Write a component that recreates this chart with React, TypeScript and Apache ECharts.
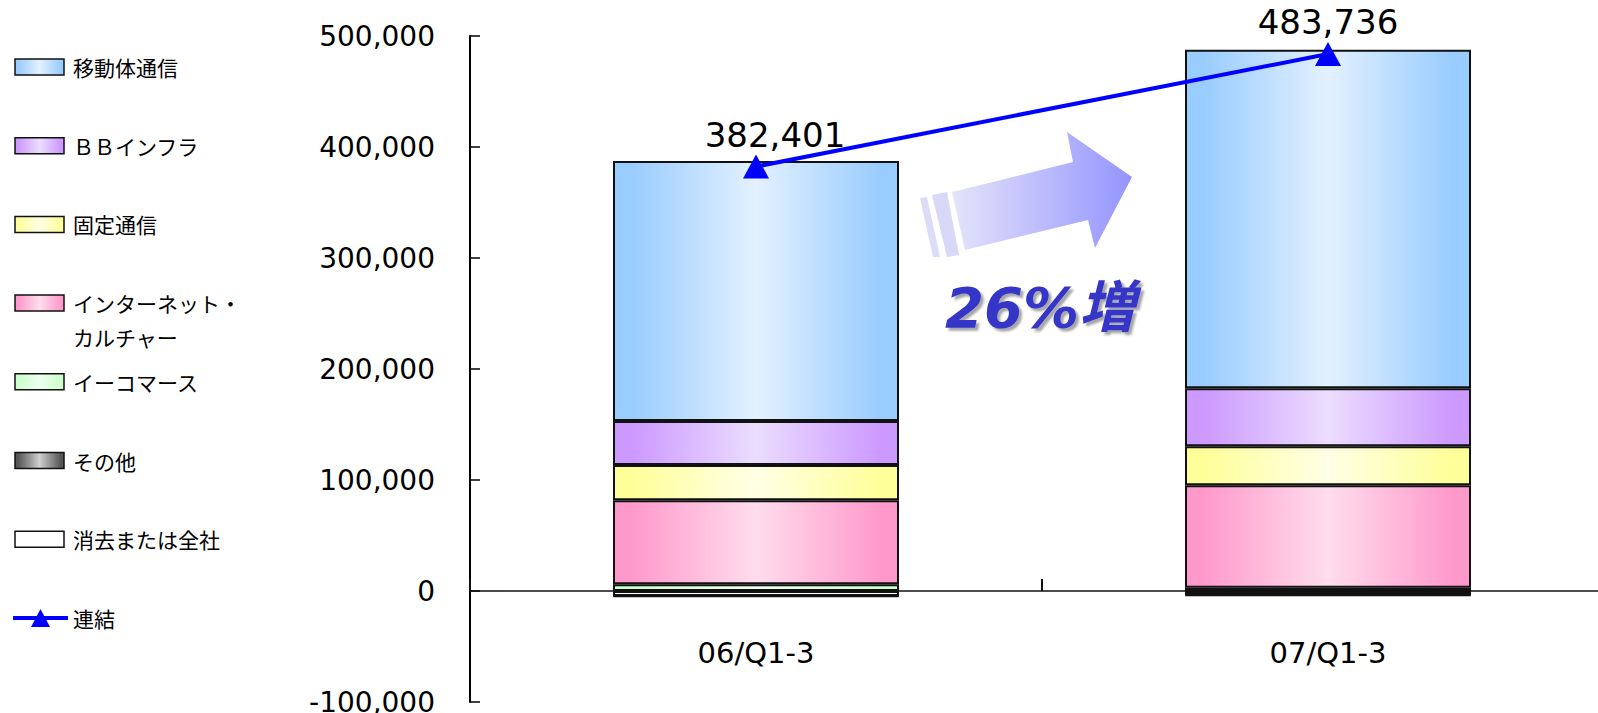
import React, { useEffect, useRef } from "react";
import * as echarts from "echarts";

const categories = ["06/Q1-3", "07/Q1-3"];
const mobile = [234200, 304900];
const bbInfra = [39600, 52300];
const fixedLine = [31800, 35100];
const internet = [75700, 92300];
const ecommerce = [6000, 3000];
const others = [-400, -300];
const elimination = [-4500, -3600];
const consolidated = [382401, 483736];
const yTicks = { min: -100000, max: 500000, interval: 100000 };

const seriesNames = [
  "移動体通信",
  "ＢＢインフラ",
  "固定通信",
  "インターネット・カルチャー",
  "イーコマース",
  "その他",
  "消去または全社",
];
const legendLabels = [
  "移動体通信",
  "ＢＢインフラ",
  "固定通信",
  "インターネット・\nカルチャー",
  "イーコマース",
  "その他",
  "消去または全社",
  "連結",
];
const lineName = "連結";
const increaseText = "26%増";

const edgeColors = ["#99CCFF", "#CC99FF", "#FFFF99", "#FF99CC", "#CCFFCC", "#555555", "#FFFFFF"];
const midColors = ["#E3F1FF", "#EBDDFF", "#FFFFE6", "#FFDDEC", "#EEFFEE", "#D0D0D0", "#FFFFFF"];

const grad = (edge: string, mid: string) =>
  new echarts.graphic.LinearGradient(0, 0, 1, 0, [
    { offset: 0, color: edge },
    { offset: 0.06, color: edge },
    { offset: 0.5, color: mid },
    { offset: 0.94, color: edge },
    { offset: 1, color: edge },
  ]);

const fmt = (v: number) => v.toLocaleString("en-US");

export default function App() {
  const ref = useRef<HTMLDivElement>(null);
  useEffect(() => {
    if (!ref.current) return;
    const chart = echarts.init(ref.current, null, { renderer: "svg" });
    const values = [mobile, bbInfra, fixedLine, internet, ecommerce, others, elimination];
    // stacking order from axis outward
    const stackOrder = [4, 3, 2, 1, 0, 6, 5];
    const barSeries = stackOrder.map((idx) => ({
      name: seriesNames[idx],
      type: "bar",
      stack: "total",
      barWidth: "50%",
      data: values[idx],
      itemStyle: {
        color: grad(edgeColors[idx], midColors[idx]),
        borderColor: "#111",
        borderWidth: 2,
      },
    }));
    const labelOffsets = [[19, 0], [0, 0]];

    const legendGraphics: any[] = [];
    legendLabels.forEach((label, i) => {
      const cy = 67 + i * 78.7;
      if (i < seriesNames.length) {
        legendGraphics.push({
          type: "rect",
          shape: { x: 15, y: cy - 8, width: 49, height: 16 },
          style: {
            fill: grad(edgeColors[i], midColors[i]),
            stroke: "#111",
            lineWidth: 1.5,
          },
        });
      } else {
        legendGraphics.push({
          type: "line",
          shape: { x1: 13, y1: cy, x2: 68, y2: cy },
          style: { stroke: "#0000FF", lineWidth: 4 },
        });
        legendGraphics.push({
          type: "polygon",
          shape: { points: [[31, cy + 9], [50, cy + 9], [40.5, cy - 9]] },
          style: { fill: "#0000FF" },
        });
      }
      legendGraphics.push({
        type: "text",
        x: 73,
        y: cy - 17,
        style: {
          text: label,
          fontSize: 21,
          lineHeight: 34,
          fontFamily: "Noto Sans CJK JP",
          fill: "#000",
          textVerticalAlign: "top",
          verticalAlign: "top",
        },
      });
    });

    const arrowGraphics = [
      {
        type: "polygon",
        shape: { points: [[920, 198], [927, 197], [940, 257], [933, 257]] },
        style: { fill: "#DCDCF8" },
      },
      {
        type: "polygon",
        shape: { points: [[932, 195], [947, 192], [959, 255], [947, 257]] },
        style: { fill: "#D8D8F8" },
      },
      {
        type: "polygon",
        shape: {
          points: [
            [952, 192],
            [1073, 162],
            [1067, 132],
            [1132, 177],
            [1095, 248],
            [1088, 220],
            [965, 250],
          ],
        },
        style: {
          fill: new echarts.graphic.LinearGradient(0, 0, 1, 0, [
            { offset: 0, color: "#E4E4FA" },
            { offset: 1, color: "#9494FF" },
          ]),
        },
      },
      {
        type: "text",
        x: 1040,
        y: 307,
        style: {
          text: increaseText,
          fontSize: 56,
          fontWeight: "bold",
          fontStyle: "italic",
          fontFamily: "DejaVu Sans, Noto Sans CJK JP",
          fill: "#3535C8",
          textAlign: "center",
          textVerticalAlign: "middle",
          align: "center",
          verticalAlign: "middle",
          textShadowColor: "rgba(0,0,0,0.35)",
          textShadowOffsetX: 3,
          textShadowOffsetY: 3,
          textShadowBlur: 2,
        },
      },
    ];

    chart.setOption({
      animation: false,
      grid: { left: 470, right: -16, top: 36, bottom: 11, containLabel: false, outerBoundsMode: "none" },
      xAxis: {
        type: "category",
        data: categories,
        position: "bottom",
        offset: -111,
        z: 10,
        axisLine: { onZero: false, lineStyle: { color: "#111", width: 1.5 } },
        axisTick: { show: true, interval: 0, inside: true, length: 12, lineStyle: { color: "#111", width: 2 } },
        axisLabel: { fontSize: 29, color: "#000", margin: 47, fontFamily: "DejaVu Sans" },
      },
      yAxis: {
        type: "value",
        min: yTicks.min,
        max: yTicks.max,
        interval: yTicks.interval,
        axisLine: { show: true, lineStyle: { color: "#000", width: 2 } },
        axisTick: { show: true, inside: true, length: 10, lineStyle: { color: "#000", width: 1.5 } },
        splitLine: { show: false },
        axisLabel: {
          fontSize: 28,
          color: "#000",
          margin: 35,
          fontFamily: "DejaVu Sans",
          formatter: (v: number) => fmt(v),
        },
      },
      series: [
        ...barSeries,
        {
          name: lineName,
          type: "line",
          z: 5,
          data: consolidated.map((v, i) => ({ value: v, label: { offset: labelOffsets[i] } })),
          lineStyle: { color: "#0000FF", width: 4 },
          itemStyle: { color: "#0000FF" },
          symbol: "triangle",
          symbolSize: [26, 24],
          label: {
            show: true,
            position: "top",
            distance: 3,
            fontSize: 34,
            color: "#000",
            fontFamily: "DejaVu Sans",
            formatter: (p: any) => fmt(p.value),
          },
        },
      ],
      graphic: [...legendGraphics, ...arrowGraphics],
    });
    return () => chart.dispose();
  }, []);
  return (
    <div
      ref={ref}
      style={{ position: "fixed", left: 0, top: 0, width: 1598, height: 713, background: "#fff" }}
    />
  );
}
